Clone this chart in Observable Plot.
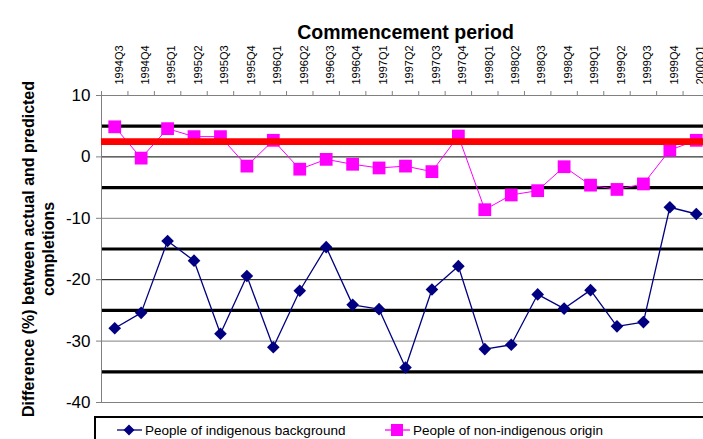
<!DOCTYPE html>
<html>
<head>
<meta charset="utf-8">
<script src="https://cdn.jsdelivr.net/npm/d3@7"></script>
<script src="https://cdn.jsdelivr.net/npm/@observablehq/plot@0.6"></script>
<style>
  html, body { margin: 0; padding: 0; background: #fff; overflow: hidden; }
  #wrap { position: relative; width: 703px; height: 439px; overflow: hidden; font-family: "Liberation Sans", Arial, sans-serif; }
  #chart { position: absolute; left: 0; top: 0; width: 716px; }
  #chart svg { max-width: none !important; }
  #legend { position: absolute; left: 94px; top: 416px; width: 700px; height: 40px; border: 2px solid #000; background: #fff; }
  .item { position: absolute; top: 4px; display: flex; align-items: center; font-size: 13.5px; color: #000; white-space: nowrap; }
  .item svg { margin-right: 3px; }
</style>
</head>
<body>
<div id="wrap">
  <div id="chart"></div>
  <div id="legend"></div>
</div>
<script>
const categories = ["1994Q3","1994Q4","1995Q1","1995Q2","1995Q3","1995Q4","1996Q1","1996Q2","1996Q3","1996Q4","1997Q1","1997Q2","1997Q3","1997Q4","1998Q1","1998Q2","1998Q3","1998Q4","1999Q1","1999Q2","1999Q3","1999Q4","2000Q1"];
const indigenous = [-27.9,-25.4,-13.7,-16.9,-28.8,-19.4,-31.0,-21.8,-14.7,-24.1,-24.8,-34.3,-21.6,-17.8,-31.3,-30.6,-22.4,-24.7,-21.7,-27.6,-26.9,-8.2,-9.3];
const nonIndigenous = [4.9,-0.2,4.6,3.3,3.3,-1.5,2.7,-2.0,-0.4,-1.2,-1.8,-1.5,-2.4,3.4,-8.6,-6.2,-5.5,-1.6,-4.6,-5.3,-4.4,1.1,2.7];
const seriesNames = ["People of indigenous background", "People of non-indigenous origin"];
const yTicks = [10, 0, -10, -20, -30, -40];
const thickLines = [5, -5, -15, -25, -35];
const blackGrid = [0, -20];
const grayGrid = [-10, -30];
const redLine = [2.5];
const title = "Commencement period";
const yLabel = "Difference (%) between actual and predicted\ncompletions";

const indData = categories.map((c, i) => ({i, c, v: indigenous[i]}));
const nonData = categories.map((c, i) => ({i, c, v: nonIndigenous[i]}));
const bounds = d3.range(categories.length + 1).map(i => i - 0.5);

const chart = Plot.plot({
  width: 716,
  height: 415,
  marginLeft: 101,
  marginRight: 7,
  marginTop: 95,
  marginBottom: 13,
  style: {fontFamily: "'Liberation Sans', Arial, sans-serif", color: "#000", background: "transparent", overflow: "visible", maxWidth: "none"},
  x: {domain: [-0.5, categories.length - 0.5], axis: null},
  y: {domain: [-40, 10], axis: null},
  marks: [
    Plot.ruleY(grayGrid, {stroke: "#808080", strokeWidth: 1}),
    Plot.ruleY(blackGrid, {stroke: "#000", strokeWidth: 1}),
    Plot.ruleY(thickLines, {stroke: "#000", strokeWidth: 3.2}),
    Plot.frame({stroke: "#808080"}),
    Plot.axisY({ticks: yTicks, tickSize: 5, tickPadding: 6, fontSize: 17, stroke: "#808080", label: null, tickFormat: d => String(d)}),
    Plot.axisX({anchor: "top", ticks: bounds, tickSize: 5, tickFormat: () => "", stroke: "#808080", label: null}),
    Plot.text(categories, {x: (d, i) => i, frameAnchor: "top", dy: -11, rotate: -90, textAnchor: "start", fontSize: 11}),
    Plot.text([title], {frameAnchor: "top", dy: -70, textAnchor: "middle", fontSize: 19.5, fontWeight: "bold"}),
    Plot.text([yLabel], {frameAnchor: "left", dx: -64, rotate: -90, textAnchor: "middle", fontSize: 16, fontWeight: "bold", lineHeight: 1.25}),
    Plot.line(indData, {x: "i", y: "v", stroke: "#000080", strokeWidth: 1.3}),
    Plot.dot(indData, {x: "i", y: "v", symbol: "diamond2", r: 5.7, fill: "#000080", stroke: null}),
    Plot.line(nonData, {x: "i", y: "v", stroke: "#ff00ff", strokeWidth: 1}),
    Plot.dot(nonData, {x: "i", y: "v", symbol: "square", r: 7.2, fill: "#ff00ff", stroke: null}),
    Plot.ruleY(redLine, {stroke: "#ff0000", strokeWidth: 6.7})
  ]
});
document.getElementById("chart").appendChild(chart);

const legend = document.getElementById("legend");
const items = [
  {name: seriesNames[0], left: 21, color: "#000080", shape: "diamond"},
  {name: seriesNames[1], left: 289, color: "#ff00ff", shape: "square"}
];
for (const it of items) {
  const div = document.createElement("div");
  div.className = "item";
  div.style.left = it.left + "px";
  const marker = it.shape === "diamond"
    ? `<polygon points="12,2.5 17.5,8 12,13.5 6.5,8" fill="${it.color}"/>`
    : `<rect x="6" y="2" width="12" height="12" fill="${it.color}"/>`;
  div.innerHTML = `<svg width="25" height="16"><line x1="0" y1="8" x2="25" y2="8" stroke="${it.color}" stroke-width="1.3"/>${marker}</svg><span>${it.name}</span>`;
  legend.appendChild(div);
}
</script>
</body>
</html>
